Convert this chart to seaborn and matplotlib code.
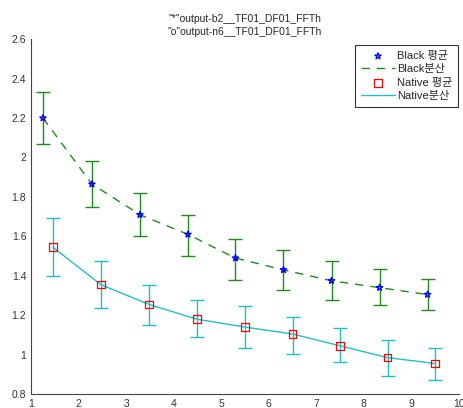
import numpy as np
import pandas as pd
import matplotlib
matplotlib.use("Agg")
import matplotlib.pyplot as plt
from matplotlib.ticker import FuncFormatter
import seaborn as sns

sns.set_style("white")
plt.rcParams['font.family'] = ['Liberation Sans', 'Noto Sans CJK KR', 'DejaVu Sans']

# values
black_x = [1.25, 2.28, 3.29, 4.3, 5.3, 6.31, 7.32, 8.33, 9.34]
black_mean = [2.20, 1.865, 1.71, 1.61, 1.49, 1.43, 1.375, 1.34, 1.305]
black_lo = [2.07, 1.75, 1.60, 1.50, 1.38, 1.33, 1.275, 1.25, 1.225]
black_hi = [2.33, 1.98, 1.82, 1.71, 1.585, 1.53, 1.475, 1.435, 1.385]

native_x = [1.46, 2.47, 3.48, 4.49, 5.5, 6.5, 7.5, 8.5, 9.5]
native_mean = [1.545, 1.355, 1.255, 1.18, 1.14, 1.105, 1.045, 0.985, 0.955]
native_lo = [1.40, 1.235, 1.15, 1.09, 1.035, 1.005, 0.965, 0.89, 0.87]
native_hi = [1.695, 1.475, 1.355, 1.275, 1.245, 1.19, 1.135, 1.075, 1.035]

title_lines = ['"*"output-b2__TF01_DF01_FFTh', '"o"output-n6__TF01_DF01_FFTh']

black = pd.DataFrame({'x': black_x, 'y': black_mean})
native = pd.DataFrame({'x': native_x, 'y': native_mean})

fig = plt.figure(figsize=(4.64, 4.08), dpi=100)
ax = fig.add_axes([0.067, 0.034, 0.922, 0.870])

green = '#1f8a1f'
cyan = '#1fc0c8'

ax.errorbar(black_x, black_mean,
            yerr=[np.subtract(black_mean, black_lo), np.subtract(black_hi, black_mean)],
            fmt='none', ecolor=green, elinewidth=1.0, capsize=5, capthick=1.0, label='_nolegend_')
ax.errorbar(native_x, native_mean,
            yerr=[np.subtract(native_mean, native_lo), np.subtract(native_hi, native_mean)],
            fmt='none', ecolor=cyan, elinewidth=1.0, capsize=5, capthick=1.0, label='_nolegend_')

sns.scatterplot(data=black, x='x', y='y', ax=ax, marker='*', s=22, color='none',
                edgecolor='#0000ff', linewidth=1.0, label='Black 평균', zorder=4)
sns.lineplot(data=black, x='x', y='y', ax=ax, color=green, linestyle=(0, (6, 5)),
             linewidth=1.0, label='Black분산')
sns.scatterplot(data=native, x='x', y='y', ax=ax, marker='s', s=30, color='none',
                edgecolor='#ff0000', linewidth=0.9, label='Native 평균', zorder=4)
sns.lineplot(data=native, x='x', y='y', ax=ax, color=cyan, linewidth=1.0, label='Native분산')

ax.set_xlim(1, 10)
ax.set_ylim(0.8, 2.6)
ax.set_xticks(range(1, 11))
ax.set_yticks(np.arange(0.8, 2.61, 0.2))
ax.yaxis.set_major_formatter(FuncFormatter(lambda v, p: f'{v:g}'))
ax.set_xlabel('')
ax.set_ylabel('')
ax.tick_params(direction='in', length=3, width=0.8, labelsize=7.5, colors='#333333')
for side in ['top', 'right']:
    ax.spines[side].set_visible(False)
for side in ['left', 'bottom']:
    ax.spines[side].set_color('#444444')
    ax.spines[side].set_linewidth(0.8)

ax.set_title('\n'.join(title_lines), fontsize=7.5, linespacing=1.4, pad=3)

leg = ax.legend(loc='upper right', bbox_to_anchor=(1.004, 0.99), fontsize=8,
                frameon=True, fancybox=False, edgecolor='black', handlelength=3.0,
                borderpad=0.55, labelspacing=0.3, handletextpad=0.2, borderaxespad=0.2)
leg.get_frame().set_linewidth(0.8)

fig.savefig('out.png', dpi=100)
